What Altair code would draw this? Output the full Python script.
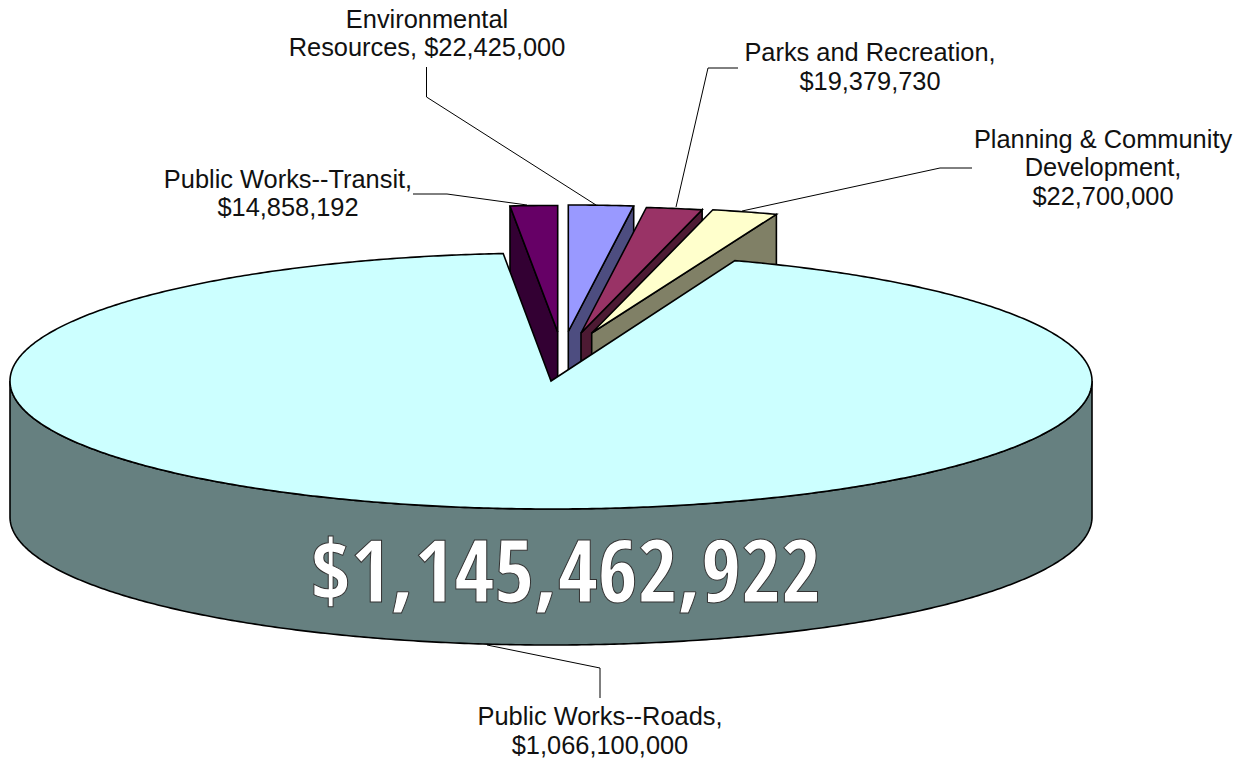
import math
import altair as alt

# Budget by department
DEPARTMENTS = ["Environmental Resources", "Parks and Recreation", "Planning & Community Development",
               "Public Works--Roads", "Public Works--Transit"]
AMOUNTS = [22425000, 19379730, 22700000, 1066100000, 14858192]
TOTAL_LABEL = "$1,145,462,922"

TOP_COLORS = ["#9999FF", "#993366", "#FFFFCC", "#CCFFFF", "#660066"]
WALL_COLORS = ["#4D4D80", "#4D1A33", "#808066", "#668080", "#330033"]

W, H = 1245, 760
DEPTH = 136

# Pie geometry: the pulled-out wedges share one smaller ellipse
WEDGE_GEOMETRY = {
    "Environmental Resources": (568.3, 331.5, 533, 126.5),
    "Parks and Recreation": (581.0, 333.0, 533, 126.5),
    "Planning & Community Development": (591.7, 333.0, 533, 126.5),
    "Public Works--Transit": (557.7, 332.0, 586, 126.5),
}
ROADS_GEOMETRY = (551.0, 381.0, 541, 128)
ROADS_ROTATION = -0.4

total = sum(AMOUNTS)
spans = {}
cum = 0.0
for name, amount in zip(DEPARTMENTS, AMOUNTS):
    sweep = amount / total * 360
    spans[name] = (cum, cum + sweep)
    cum += sweep


def rim(cx, cy, rx, ry, a0, a1, step=0.5):
    n = max(2, int(abs(a1 - a0) / step) + 1)
    pts = []
    for i in range(n + 1):
        a = math.radians(a0 + (a1 - a0) * i / n)
        pts.append([cx + rx * math.sin(a), cy - ry * math.cos(a)])
    return pts


def feature(points, fill):
    ring = [[round(x, 2), round(y, 2)] for x, y in points]
    ring.append(ring[0])
    return {"type": "Feature", "properties": {"fill": fill},
            "geometry": {"type": "Polygon", "coordinates": [ring]}}


shapes = []
# Painted back to front: Transit, Environmental, Parks, Planning, then Roads over them
for name in ["Public Works--Transit", "Environmental Resources", "Parks and Recreation",
             "Planning & Community Development"]:
    i = DEPARTMENTS.index(name)
    cx, cy, rx, ry = WEDGE_GEOMETRY[name]
    a0, a1 = spans[name]
    arc = rim(cx, cy, rx, ry, a0, a1)
    if name == "Public Works--Transit":
        edge = arc[0]   # exposed cut face is on the leading side
    else:
        edge = arc[-1]  # exposed cut face is on the trailing side
    wall = [[cx, cy], edge, [edge[0], edge[1] + DEPTH], [cx, cy + DEPTH]]
    shapes.append(feature(wall, WALL_COLORS[i]))
    shapes.append(feature([[cx, cy]] + arc, TOP_COLORS[i]))

i = DEPARTMENTS.index("Public Works--Roads")
cx, cy, rx, ry = ROADS_GEOMETRY
a0, a1 = spans["Public Works--Roads"]
lower = rim(cx, cy, rx, ry, 90, 270)
wall = lower + [[x, y + DEPTH] for x, y in reversed(lower)]
shapes.append(feature(wall, WALL_COLORS[i]))
shapes.append(feature([[cx, cy]] + rim(cx, cy, rx, ry, a0 + ROADS_ROTATION, a1 + ROADS_ROTATION), TOP_COLORS[i]))

pie = (
    alt.Chart(alt.Data(values=shapes))
    .mark_geoshape(stroke="black", strokeWidth=1.6, strokeJoin="miter")
    .encode(fill=alt.Fill("properties.fill:N", scale=None))
    .project(type="identity", scale=1, translate=[0, 0])
)

# Leader lines from each label to its slice
LEADERS = {
    "Public Works--Transit": [(413, 194), (447, 194), (527, 205)],
    "Environmental Resources": [(426.5, 67), (426.5, 97), (596, 205)],
    "Parks and Recreation": [(738, 68), (708, 68), (676, 207)],
    "Planning & Community Development": [(972, 168), (940, 168), (742, 211)],
    "Public Works--Roads": [(487, 645), (600, 668), (600, 698)],
}
leader_rows = [
    {"slice": k, "step": n, "x": p[0], "y": p[1]}
    for k, pts in LEADERS.items() for n, p in enumerate(pts)
]
leaders = (
    alt.Chart(alt.Data(values=leader_rows))
    .mark_line(color="black", strokeWidth=1)
    .encode(
        x=alt.X("x:Q", scale=None, axis=None),
        y=alt.Y("y:Q", scale=None, axis=None),
        detail="slice:N",
        order="step:Q",
    )
)


def money(name):
    return f"${AMOUNTS[DEPARTMENTS.index(name)]:,}"


# Data labels, one row per text line
LABEL_LINES = [
    ("Environmental", 427, 20),
    (f"Resources, {money('Environmental Resources')}", 427, 48),
    ("Parks and Recreation,", 870, 53),
    (money("Parks and Recreation"), 870, 82),
    ("Planning & Community", 1103, 140),
    ("Development,", 1103, 168),
    (money("Planning & Community Development"), 1103, 197),
    ("Public Works--Transit,", 288, 180),
    (money("Public Works--Transit"), 288, 208),
    ("Public Works--Roads,", 600, 717),
    (money("Public Works--Roads"), 600, 746),
]
labels = (
    alt.Chart(alt.Data(values=[{"t": t, "x": x, "y": y} for t, x, y in LABEL_LINES]))
    .mark_text(font="Liberation Sans", fontSize=25.4, color="#111111", align="center", baseline="middle")
    .encode(x=alt.X("x:Q", scale=None, axis=None), y=alt.Y("y:Q", scale=None, axis=None), text="t:N")
)

total_text = (
    alt.Chart(alt.Data(values=[{"t": TOTAL_LABEL, "x": 566, "y": 602}]))
    .mark_text(font="Open Sans Condensed", fontWeight="bold", fontSize=86.5, color="white",
               stroke="#333333", strokeWidth=1, align="center", baseline="alphabetic")
    .encode(x=alt.X("x:Q", scale=None, axis=None), y=alt.Y("y:Q", scale=None, axis=None), text="t:N")
)

chart = (
    alt.layer(pie, leaders, labels, total_text)
    .properties(width=W, height=H, padding=0, autosize=alt.AutoSizeParams(type="none"))
    .configure_view(stroke=None)
)

chart.save("out.html", embed_options={"renderer": "svg", "actions": False})
